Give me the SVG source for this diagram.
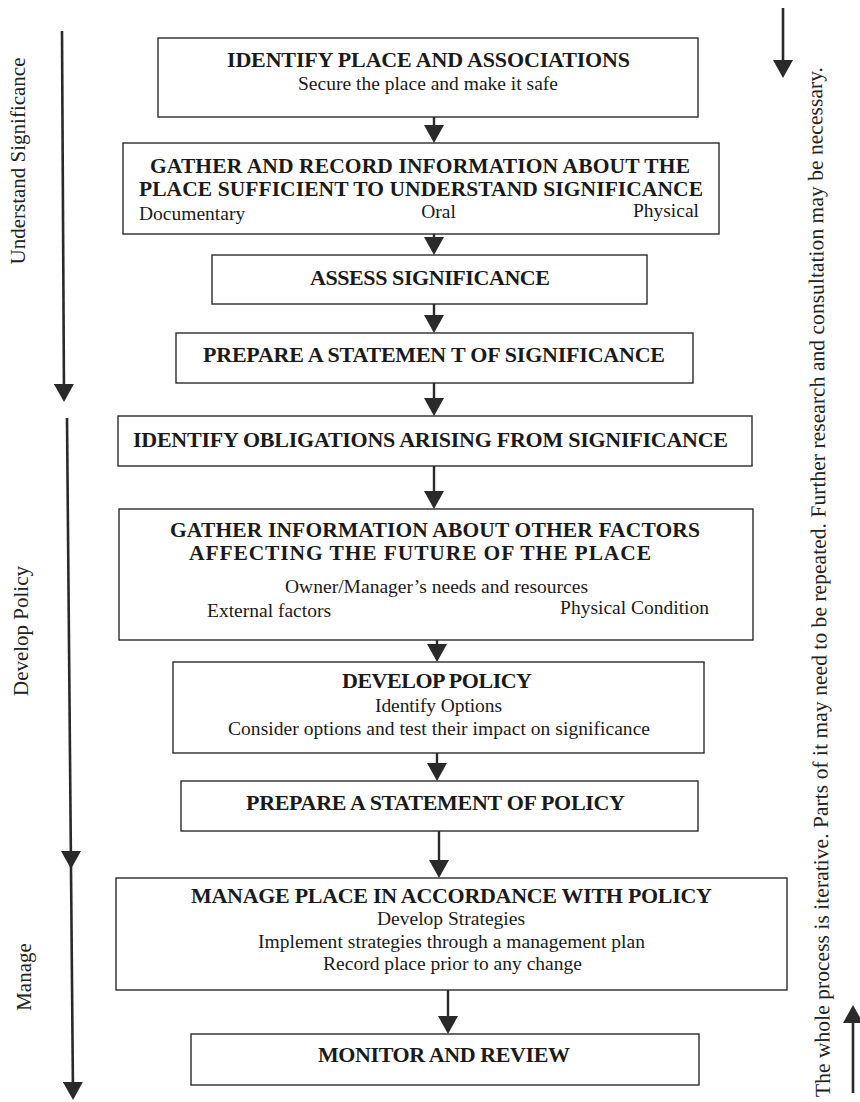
<svg xmlns="http://www.w3.org/2000/svg" width="860" height="1102" viewBox="0 0 860 1102">
  <style>
    .box { fill: #ffffff; stroke: #2b2b2b; stroke-width: 1.4; }
    .t { font-family: "Liberation Serif", "Times New Roman", serif; font-size: 22px; font-weight: bold; fill: #1a1a1a; text-anchor: middle; }
    .t2 { font-size: 21.5px; }
    .s { font-family: "Liberation Serif", "Times New Roman", serif; font-size: 19.5px; fill: #1a1a1a; text-anchor: middle; }
    .side { font-family: "Liberation Serif", "Times New Roman", serif; font-size: 21px; fill: #222222; text-anchor: middle; }
    .note { font-family: "Liberation Serif", "Times New Roman", serif; font-size: 21.5px; fill: #222222; }
    .flow { stroke: #2a2a2a; stroke-width: 2.4; fill: none; marker-end: url(#head); }
    .phase { stroke: #2a2a2a; stroke-width: 2.6; fill: none; marker-end: url(#head); }
  </style>
  <defs>
    <marker id="head" viewBox="0 0 18 20" markerWidth="18" markerHeight="20" refX="12" refY="10" orient="auto" markerUnits="userSpaceOnUse">
      <path d="M0,0 L18,10 L0,20 Z" fill="#2a2a2a"/>
    </marker>
  </defs>

  <rect width="860" height="1102" fill="#ffffff"/>

  <!-- phase arrows down the left margin and their labels -->
  <g id="phases">
    <line class="phase" x1="62" y1="31" x2="64" y2="396"/>
    <line class="phase" x1="67" y1="418" x2="73" y2="1094"/>
    <path d="M61,851 L81,851 L71,869 Z" fill="#2a2a2a"/>
    <text class="side" transform="translate(25,161) rotate(-90)">Understand Significance</text>
    <text class="side" transform="translate(28,631) rotate(-90)">Develop Policy</text>
    <text class="side" transform="translate(31,977) rotate(-90)">Manage</text>
  </g>

  <!-- iteration note on the right margin -->
  <g id="iteration-note">
    <line class="phase" x1="783" y1="8" x2="783" y2="72"/>
    <line class="phase" x1="853" y1="1093" x2="853" y2="1011"/>
    <text class="note" transform="translate(830,1097) rotate(-90.45)" textLength="1030">The whole process is iterative. Parts of it may need to be repeated. Further research and consultation may be necessary.</text>
  </g>

  <!-- connectors between the steps -->
  <g id="connectors">
    <line class="flow" x1="434" y1="117" x2="434" y2="137"/>
    <line class="flow" x1="434" y1="234" x2="434" y2="249"/>
    <line class="flow" x1="434" y1="304" x2="434" y2="327"/>
    <line class="flow" x1="434" y1="383" x2="434" y2="410"/>
    <line class="flow" x1="434" y1="466" x2="434" y2="503"/>
    <line class="flow" x1="437" y1="640" x2="437" y2="656"/>
    <line class="flow" x1="437" y1="753" x2="437" y2="775"/>
    <line class="flow" x1="439" y1="831" x2="439" y2="872"/>
    <line class="flow" x1="448" y1="990" x2="448" y2="1028"/>
  </g>

  <g id="identify-place">
    <rect class="box" x="158" y="38" width="540" height="79"/>
    <text class="t" x="428.5" y="67" textLength="403">IDENTIFY PLACE AND ASSOCIATIONS</text>
    <text class="s" x="428" y="90" textLength="260">Secure the place and make it safe</text>
  </g>

  <g id="gather-record">
    <rect class="box" x="123" y="143" width="596" height="91"/>
    <text class="t t2" x="420" y="172.5" textLength="540">GATHER AND RECORD INFORMATION ABOUT THE</text>
    <text class="t t2" x="421" y="195.5" textLength="564">PLACE SUFFICIENT TO UNDERSTAND SIGNIFICANCE</text>
    <text class="s" x="139" y="220" style="text-anchor:start">Documentary</text>
    <text class="s" x="438.5" y="218">Oral</text>
    <text class="s" x="699" y="217" style="text-anchor:end">Physical</text>
  </g>

  <g id="assess">
    <rect class="box" x="212" y="255" width="435" height="49"/>
    <text class="t" x="430" y="285" textLength="240">ASSESS SIGNIFICANCE</text>
  </g>

  <g id="statement-significance">
    <rect class="box" x="176" y="333" width="517" height="50"/>
    <text class="t" x="434" y="362" textLength="462">PREPARE A STATEMEN T OF SIGNIFICANCE</text>
  </g>

  <g id="obligations">
    <rect class="box" x="118" y="416" width="634" height="50"/>
    <text class="t" x="430.5" y="447" textLength="595">IDENTIFY OBLIGATIONS ARISING FROM SIGNIFICANCE</text>
  </g>

  <g id="other-factors">
    <rect class="box" x="119" y="509" width="634" height="131"/>
    <text class="t t2" x="435" y="537" textLength="530">GATHER INFORMATION ABOUT OTHER FACTORS</text>
    <text class="t t2" x="420" y="560" textLength="462">AFFECTING THE FUTURE OF THE PLACE</text>
    <text class="s" x="436.5" y="593" textLength="303">Owner/Manager’s needs and resources</text>
    <text class="s" x="207" y="617" style="text-anchor:start">External factors</text>
    <text class="s" x="709" y="614" style="text-anchor:end">Physical Condition</text>
  </g>

  <g id="develop-policy">
    <rect class="box" x="173" y="662" width="531" height="91"/>
    <text class="t" x="437" y="688" textLength="190">DEVELOP POLICY</text>
    <text class="s" x="438.5" y="712" textLength="127">Identify Options</text>
    <text class="s" x="439" y="735" textLength="422">Consider options and test their impact on significance</text>
  </g>

  <g id="statement-policy">
    <rect class="box" x="181" y="781" width="517" height="50"/>
    <text class="t" x="435.5" y="810" textLength="379">PREPARE A STATEMENT OF POLICY</text>
  </g>

  <g id="manage-place">
    <rect class="box" x="116" y="878" width="671" height="112"/>
    <text class="t" x="451.5" y="903" textLength="521">MANAGE PLACE IN ACCORDANCE WITH POLICY</text>
    <text class="s" x="451" y="925" textLength="148">Develop Strategies</text>
    <text class="s" x="451.5" y="948" textLength="387">Implement strategies through a management plan</text>
    <text class="s" x="452.5" y="970" textLength="259">Record place prior to any change</text>
  </g>

  <g id="monitor-review">
    <rect class="box" x="191" y="1034" width="508" height="51"/>
    <text class="t" x="444" y="1062" textLength="252">MONITOR AND REVIEW</text>
  </g>
</svg>
